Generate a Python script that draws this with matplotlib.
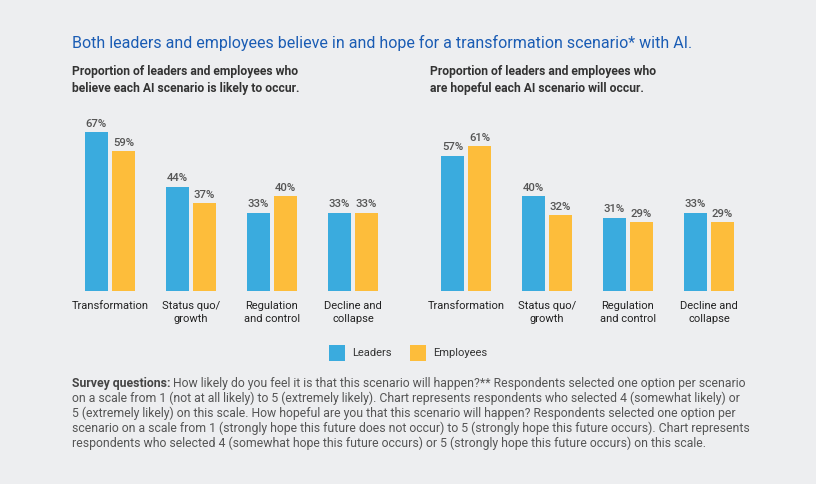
import matplotlib
matplotlib.use("Agg")
import matplotlib.pyplot as plt
from matplotlib.patches import Rectangle

categories = ["Transformation", "Status quo/\ngrowth", "Regulation\nand control", "Decline and\ncollapse"]
likely_leaders = [67, 44, 33, 33]
likely_employees = [59, 37, 40, 33]
hopeful_leaders = [57, 40, 31, 33]
hopeful_employees = [61, 32, 29, 29]
series_names = ["Leaders", "Employees"]

title = "Both leaders and employees believe in and hope for a transformation scenario* with AI."
subtitle_left = "Proportion of leaders and employees who\nbelieve each AI scenario is likely to occur."
subtitle_right = "Proportion of leaders and employees who\nare hopeful each AI scenario will occur."
note_bold = "Survey questions:"
note_lines = [
    " How likely do you feel it is that this scenario will happen?** Respondents selected one option per scenario",
    "on a scale from 1 (not at all likely) to 5 (extremely likely). Chart represents respondents who selected 4 (somewhat likely) or",
    "5 (extremely likely) on this scale. How hopeful are you that this scenario will happen? Respondents selected one option per",
    "scenario on a scale from 1 (strongly hope this future does not occur) to 5 (strongly hope this future occurs). Chart represents",
    "respondents who selected 4 (somewhat hope this future occurs) or 5 (strongly hope this future occurs) on this scale.",
]

BG = "#edeef0"
BLUE = "#3aabde"
YELLOW = "#fdbd3b"
FONT = "Roboto"
plt.rcParams["font.family"] = [FONT, "DejaVu Sans"]

W, H = 816, 484
fig = plt.figure(figsize=(W / 100, H / 100), dpi=100, facecolor=BG)

def px_axes(x0, y_top, w, h):
    return fig.add_axes([x0 / W, 1 - (y_top + h) / H, w / W, h / H])

baseline = 291
ax_h = 170
ymax = ax_h / 2.37
bw = 0.284
off = 0.1667

def draw_panel(x_left, lead, emp):
    ax = px_axes(x_left, baseline - ax_h, 324, ax_h)
    ax.set_facecolor("none")
    xs = list(range(len(categories)))
    for vals, sign, col in ((lead, -1, BLUE), (emp, 1, YELLOW)):
        pos = [x + sign * off for x in xs]
        bars = ax.bar(pos, vals, width=bw, color=col, linewidth=0)
        for b, v in zip(bars, vals):
            ax.annotate(f"{v}%", (b.get_x() + b.get_width() / 2, v),
                        xytext=(0, 2.5), textcoords="offset points",
                        ha="center", va="bottom", fontsize=8.2, color="#555555",
                        fontweight="medium", annotation_clip=False)
    ax.set_xlim(-0.5, 3.5)
    ax.set_ylim(0, ymax)
    ax.set_xticks(xs)
    ax.set_xticklabels(categories, fontsize=8, color="#222222", linespacing=1.45)
    ax.tick_params(axis="x", length=0, pad=7)
    ax.set_yticks([])
    for s in ax.spines.values():
        s.set_visible(False)
    return ax

draw_panel(69.5, likely_leaders, likely_employees)
draw_panel(425.5, hopeful_leaders, hopeful_employees)

def fx(x):
    return x / W

def fy(y):
    return 1 - y / H

fig.text(fx(72), fy(43), title, fontsize=11.5, color="#1a5cb4", va="center", ha="left")
fig.text(fx(72), fy(80), subtitle_left, fontsize=8.7, color="#333333", fontweight="bold",
         va="center", ha="left", linespacing=1.4)
fig.text(fx(430), fy(80), subtitle_right, fontsize=8.7, color="#333333", fontweight="bold",
         va="center", ha="left", linespacing=1.4)

# legend
for sx, col, name in ((329, BLUE, series_names[0]), (410, YELLOW, series_names[1])):
    fig.patches.append(Rectangle((fx(sx), fy(361)), 16 / W, 16 / H, transform=fig.transFigure,
                                 facecolor=col, edgecolor="none"))
    fig.text(fx(sx + 23), fy(353), name, fontsize=8, color="#333333", va="center", ha="left")

# footnote
fig.canvas.draw()
renderer = fig.canvas.get_renderer()
fs_note = 8.8
tb = fig.text(fx(72), fy(383), note_bold, fontsize=fs_note, color="#444444", fontweight="bold",
              va="center", ha="left")
bb = tb.get_window_extent(renderer)
x_after = bb.x1 / W
for i, line in enumerate(note_lines):
    x = x_after if i == 0 else fx(72)
    fig.text(x, fy(383 + 15 * i), line, fontsize=fs_note, color="#555555", va="center", ha="left")

fig.savefig("out.png", dpi=100, facecolor=BG)
